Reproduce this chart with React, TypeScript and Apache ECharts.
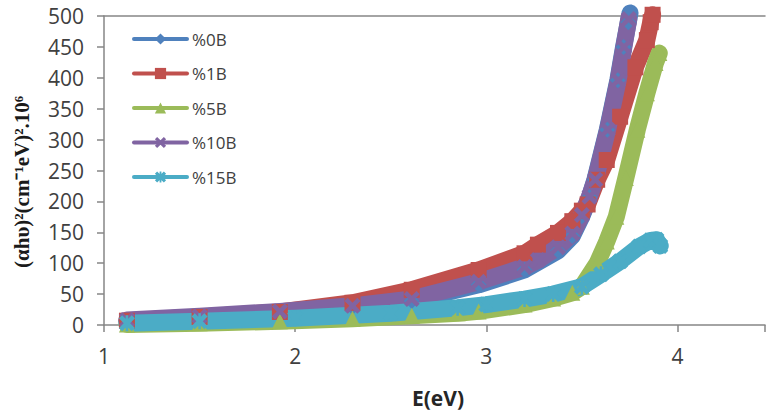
import React, { useEffect, useRef } from "react";
import * as echarts from "echarts";

const seriesNames = ["%0B", "%1B", "%5B", "%10B", "%15B"];
const seriesColors = ["#4F81BD", "#C0504D", "#9BBB59", "#8064A2", "#4BACC6"];

const xTicks = [1, 2, 3, 4];
const yTicks = [0, 50, 100, 150, 200, 250, 300, 350, 400, 450, 500];

// %0B
const e0B = [1.12, 1.5, 1.92, 2.3, 2.61, 2.96, 3.2, 3.375, 3.45, 3.5, 3.54, 3.568, 3.633, 3.688, 3.718, 3.743, 3.752];
const v0B = [6, 12, 20, 29, 39, 65, 89, 120, 144, 176, 207, 235, 316, 396, 450, 490, 505];
// %1B
const e1B = [1.12, 1.5, 1.92, 2.3, 2.61, 2.96, 3.2, 3.27, 3.375, 3.45, 3.5, 3.53, 3.58, 3.63, 3.7, 3.78, 3.84, 3.86, 3.87];
const v1B = [7, 13, 21, 36, 57, 89, 116, 130, 149, 168, 185, 195, 235, 267, 337, 417, 461, 490, 502];
// %5B
const e5B = [1.12, 1.5, 1.92, 2.3, 2.61, 2.85, 2.96, 3.2, 3.35, 3.45, 3.5, 3.58, 3.63, 3.68, 3.73, 3.79, 3.84, 3.885, 3.905];
const v5B = [1, 3, 6, 10, 15, 19, 22, 33, 43, 52, 62, 100, 135, 175, 238, 316, 375, 424, 440];
// %10B
const e10B = [1.12, 1.5, 1.92, 2.3, 2.61, 2.96, 3.2, 3.27, 3.375, 3.45, 3.5, 3.54, 3.57, 3.635, 3.69, 3.72, 3.745];
const v10B = [8, 14, 22, 31, 42, 70, 94, 105, 126, 148, 178, 208, 235, 316, 396, 450, 495];
// %15B
const e15B = [1.12, 1.5, 2.0, 2.5, 2.85, 3.0, 3.2, 3.35, 3.5, 3.6, 3.7, 3.8, 3.86, 3.89, 3.91];
const v15B = [3, 6, 11, 19, 28, 33, 42, 50, 62, 82, 103, 127, 137, 138, 128];

const xSeries = [e0B, e1B, e5B, e10B, e15B];
const ySeries = [v0B, v1B, v5B, v10B, v15B];

const X_SYMBOL = "path://M0,2 L2,0 L5,3 L8,0 L10,2 L7,5 L10,8 L8,10 L5,7 L2,10 L0,8 L3,5 Z";
const STAR_SYMBOL =
  "path://M4.2,0 L5.8,0 L5.8,10 L4.2,10 Z M0,2 L2,0 L5,3 L8,0 L10,2 L7,5 L10,8 L8,10 L5,7 L2,10 L0,8 L3,5 Z";
const symbols = ["diamond", "rect", "triangle", X_SYMBOL, STAR_SYMBOL];

const AXIS_COLOR = "#868686";

export default function App() {
  const ref = useRef<HTMLDivElement>(null);

  useEffect(() => {
    if (!ref.current) return;
    const chart = echarts.init(ref.current, null, { renderer: "svg" });
    const series = seriesNames.map((name, i) => ({
      name,
      type: "line",
      data: xSeries[i].map((x, j) => [x, ySeries[i][j]]),
      symbol: symbols[i],
      symbolSize: 16,
      showSymbol: true,
      clip: false,
      color: seriesColors[i],
      lineStyle: { width: 17, color: seriesColors[i], join: "round", cap: "round" },
      itemStyle: { color: seriesColors[i] },
      emphasis: { disabled: true },
    }));

    chart.setOption({
      animation: false,
      backgroundColor: "#ffffff",
      grid: {
        left: 104,
        top: 16,
        right: 0,
        height: 309,
      },
      legend: {
        orient: "vertical",
        left: 132,
        top: 29,
        padding: 0,
        itemWidth: 53,
        itemHeight: 14,
        itemGap: 14.5,
        data: seriesNames,
        lineStyle: { width: 4 },
        textStyle: { fontFamily: "Open Sans", fontSize: 17, color: "#404040", lineHeight: 20 },
      },
      xAxis: [
        {
          type: "value",
          min: 1,
          max: 4.458,
          interval: 1,
          axisLine: { show: true, onZero: false, lineStyle: { color: AXIS_COLOR, width: 1.5 } },
          axisTick: { show: true, length: 7, lineStyle: { color: AXIS_COLOR, width: 1.5 } },
          splitLine: { show: false },
          axisLabel: {
            margin: 20,
            fontFamily: "Open Sans",
            fontSize: 21,
            color: "#404040",
            formatter: (v: number) => (xTicks.includes(v) ? String(v) : ""),
          },
        },
        {
          type: "value",
          position: "top",
          min: 1,
          max: 4.458,
          interval: 1,
          axisLine: { show: true, onZero: false, lineStyle: { color: AXIS_COLOR, width: 1.5 } },
          axisTick: { show: false },
          axisLabel: { show: false },
          splitLine: { show: false },
        },
      ],
      yAxis: {
        type: "value",
        min: 0,
        max: 500,
        interval: 50,
        axisLine: { show: true, lineStyle: { color: AXIS_COLOR, width: 1.5 } },
        axisTick: { show: true, length: 7, lineStyle: { color: AXIS_COLOR, width: 1.5 } },
        splitLine: { show: false },
        axisLabel: {
          margin: 20,
          fontFamily: "Open Sans",
          fontSize: 21,
          color: "#404040",
          formatter: (v: number) => (yTicks.includes(v) ? String(v) : ""),
        },
      },
      graphic: [
        {
          type: "text",
          x: 22,
          y: 182,
          rotation: Math.PI / 2,
          style: {
            text: "(αhυ)²(cm⁻¹eV)².10⁶",
            fontFamily: "Liberation Serif",
            fontWeight: "bold",
            fontSize: 21,
            fill: "#1a1a1a",
            textAlign: "center",
            textVerticalAlign: "middle",
          },
        },
        {
          type: "text",
          x: 438,
          y: 398,
          style: {
            text: "E(eV)",
            fontFamily: "Open Sans",
            fontWeight: "bold",
            fontSize: 21,
            fill: "#262626",
            textAlign: "center",
            textVerticalAlign: "middle",
          },
        },
      ],
      series,
    });

    return () => chart.dispose();
  }, []);

  return (
    <div
      ref={ref}
      style={{ position: "absolute", left: 0, top: 0, width: 768, height: 413, background: "#fff" }}
    />
  );
}
